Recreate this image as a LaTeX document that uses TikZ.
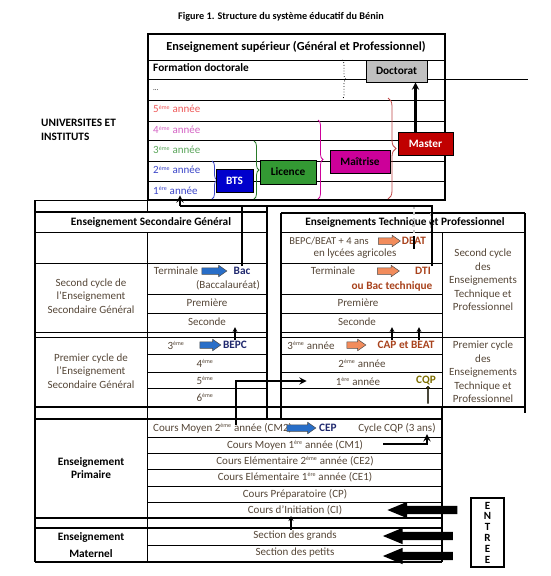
\documentclass[tikz,border=0pt]{standalone}
\usepackage{fontspec}
\setmainfont{Carlito}
\usetikzlibrary{shapes, arrows, positioning, decorations.pathreplacing}

\definecolor{bleu}{RGB}{0,0,204}
\definecolor{vert}{RGB}{51,153,51}
\definecolor{mauve}{RGB}{204,0,153}
\definecolor{rouge}{RGB}{192,0,0}
\definecolor{gris}{RGB}{192,192,192}
\definecolor{an5}{RGB}{238,90,90}
\definecolor{an4}{RGB}{212,100,196}
\definecolor{an3}{RGB}{90,165,90}
\definecolor{an12}{RGB}{60,70,200}
\definecolor{brun}{RGB}{85,70,55}
\definecolor{brique}{RGB}{168,66,28}
\definecolor{marine}{RGB}{31,40,110}
\definecolor{kaki}{RGB}{125,110,0}
\definecolor{saumon}{RGB}{242,140,92}
\definecolor{bleuf}{RGB}{40,110,200}
\newcommand{\expo}[1]{\textsuperscript{\fontsize{6}{6}\selectfont #1}}

\begin{document}
\begin{tikzpicture}[x=1pt,y=-1pt]
        \tikzstyle{every node}=[align=center, inner sep=1pt, font=\fontsize{11}{13.5}\selectfont]
        \tikzstyle{gras}=[font=\fontsize{11.3}{13.5}\selectfont\bfseries]
        \tikzstyle{lbl}=[text=brun]
        \tikzstyle{tline}=[line width=0.8pt]
        \tikzstyle{bline}=[line width=1.8pt]
        \tikzstyle{conn}=[line width=2.2pt]
        \tikzstyle{fine}=[line width=1.2pt]
        \tikzstyle{diplome}=[draw, line width=0.8pt, font=\fontsize{11.3}{13.5}\selectfont\bfseries, inner sep=0pt]
        \tikzstyle{accol}=[decorate, decoration={brace, amplitude=5pt}, line width=0.8pt]
        \tikzstyle{barrow}=[single arrow, draw=black!70, line width=0.5pt, inner xsep=0pt, inner ysep=3pt, minimum height=25pt, single arrow head extend=2.5pt, single arrow tip angle=70]
        \tikzstyle{entarrow}=[single arrow, fill=black, inner xsep=0pt, inner ysep=4pt, minimum height=70pt, single arrow head extend=4pt, single arrow tip angle=45, shape border rotate=180]
        \useasboundingbox (0,0) rectangle (551,576);

        % titre
        \node at (281,17) (titre) {\fontsize{10.2}{12}\selectfont\bfseries Figure 1. Structure du système éducatif du Bénin};

        % enseignement superieur
        \foreach \y in {60,79,100,121,140,161,181} \draw[tline] (148,\y) -- (445,\y);
        \draw[tline] (445,79) -- (528,79);
        \draw[bline] (148,34) rectangle (445,200);
        \node[font=\fontsize{12.3}{14}\selectfont\bfseries] at (296,47) (hsup) {Enseignement supérieur (Général et Professionnel)};
        \node[gras, anchor=west] at (152,68) (fdoc) {Formation doctorale};
        \node[anchor=west, font=\fontsize{7}{8}\selectfont] at (152,90) (pts) {...};
        \node[anchor=west, text=an5] at (152,109) (an5) {5\expo{ème} année};
        \node[anchor=west, text=an4] at (152,130) (an4) {4\expo{ème} année};
        \node[anchor=west, text=an3] at (152,150) (an3) {3\expo{ème} année};
        \node[anchor=west, text=an12] at (152,170) (an2) {2\expo{ème} année};
        \node[anchor=west, text=an12] at (152,190) (an1) {1\expo{ère} année};
        \node[gras, anchor=west] at (40,123) (univ) {UNIVERSITES ET};
        \node[gras, anchor=west] at (40,137) (inst) {INSTITUTS};

        \draw[accol, an12] (212,161) -- (212,199);
        \draw[accol, vert!80!black] (254,141) -- (254,199);
        \draw[accol, mauve] (318,120) -- (318,199);
        \draw[accol, an5!80!black, decoration={brace, amplitude=8pt}] (388,98) -- (388,199);
        \draw[accol, dotted, decoration={brace, amplitude=4pt}] (342,60) -- (342,99);

        \node[diplome, fill=bleu, text=white, minimum width=37pt, minimum height=23pt] at (234.5,180.5) (bts) {BTS};
        \node[diplome, fill=vert, minimum width=56pt, minimum height=24pt] at (288,172) (lic) {Licence};
        \node[diplome, fill=mauve, minimum width=60pt, minimum height=23pt] at (360,161.5) (mait) {Maîtrise};
        \node[diplome, fill=rouge, text=white, minimum width=55pt, minimum height=23pt] at (425.5,143.5) (master) {Master};
        \node[diplome, fill=gris, minimum width=61pt, minimum height=22pt] at (396.5,71) (doct) {Doctorat};
        \draw[conn, >=stealth, ->] ([xshift=-10pt]master.north) -- ([xshift=-10pt]master.north |- doct.south);

        % cadres du bas
        \draw[tline] (35,200) -- (148,200);
        \draw[bline] (35,200) -- (35,562);
        \draw[tline] (147,200) -- (147,212);
        \draw[tline] (147,232) -- (147,562);
        \draw[bline] (35,212) -- (267,212);
        \draw[bline] (267,206) -- (267,419);
        \draw[bline] (281,213) -- (525,213);
        \draw[bline] (281,213) -- (281,419);
        \draw[bline] (525,213) -- (525,413);
        \draw[tline] (442,232) -- (442,407);
        \draw[bline] (442,407) -- (442,562);
        \foreach \y in {232,263,332,337} \draw[tline] (35,\y) -- (267,\y);
        \foreach \y in {294,313,354,372,388} \draw[tline] (147,\y) -- (267,\y);
        \foreach \y in {232,337} \draw[tline] (281,\y) -- (525,\y);
        \foreach \y in {263,294,313,332,354,372,388} \draw[tline] (281,\y) -- (442,\y);
        \draw[bline] (35,407) -- (525,407);
        \foreach \y in {419,518,528,562} \draw[bline] (35,\y) -- (442,\y);
        \foreach \y in {437,453,469,486,502,545} \draw[tline] (147,\y) -- (442,\y);

        % secondaire general
        \node[gras] at (151,222) (hsg) {Enseignement Secondaire Général};
        \node[lbl] at (91,296) (scsg) {Second cycle de\\l’Enseignement\\Secondaire Général};
        \node[lbl] at (91,371) (pcsg) {Premier cycle de\\l’Enseignement\\Secondaire Général};
        \node[lbl] at (176,271) (termg) {Terminale};
        \node[barrow, fill=bleuf] at (212,271) (fbac) {};
        \node[gras, text=marine] at (242,271) (bac) {Bac};
        \node[lbl] at (228,285) (bacl) {(Baccalauréat)};
        \node[lbl] at (207,303) (premg) {Première};
        \node[lbl] at (207,322) (secg) {Seconde};
        \node[lbl] at (176,345) (e3) {3\expo{ème}};
        \node[barrow, fill=bleuf, minimum height=21pt] at (208,345) (fbepc) {};
        \node[gras, text=marine] at (235,345) (bepc) {BEPC};
        \node[lbl] at (205,363) (e4) {4\expo{ème}};
        \node[lbl] at (205,380) (e5) {5\expo{ème}};
        \node[lbl] at (205,397) (e6) {6\expo{ème}};

        % technique et professionnel
        \node[gras] at (405,222) (htp) {Enseignements Technique et Professionnel};
        \node[lbl, font=\fontsize{10.5}{13}\selectfont] at (329,241) (bepcbeat) {BEPC/BEAT + 4 ans};
        \node[barrow, fill=saumon, minimum height=22pt] at (387,241) (fdeat) {};
        \node[gras, text=brique] at (414,241) (deat) {DEAT};
        \node[lbl] at (355,254) (lycee) {en lycées agricoles};
        \node[lbl] at (333,271) (termt) {Terminale};
        \node[barrow, fill=saumon, minimum height=22pt] at (386,271) (fdti) {};
        \node[gras, text=brique] at (423,271) (dti) {DTI};
        \node[gras, text=brique] at (392,286) (bact) {ou Bac technique};
        \node[lbl] at (358,303) (premt) {Première};
        \node[lbl] at (357,322) (sect) {Seconde};
        \node[lbl] at (311,345) (a3) {3\expo{ème} année};
        \node[barrow, fill=saumon, minimum height=19pt] at (354,345) (fcap) {};
        \node[gras, text=brique] at (406,345) (cap) {CAP et BEAT};
        \node[lbl] at (362,363) (a2) {2\expo{ème} année};
        \node[lbl] at (358,381) (a1) {1\expo{ère} année};
        \node[gras, text=kaki] at (426,380) (cqp) {CQP};
        \node[single arrow, draw, fill=kaki, line width=0.6pt, inner xsep=0pt, inner ysep=2.5pt, minimum height=17pt, single arrow head extend=2pt, shape border rotate=90] at (428,395) (fcqp) {};
        \node[lbl] at (483,280) (sctp) {Second cycle\\des\\Enseignements\\Technique et\\Professionnel};
        \node[lbl] at (483,372) (pctp) {Premier cycle\\des\\Enseignements\\Technique et\\Professionnel};

        % primaire et maternel
        \node[gras] at (91,468) (prim) {Enseignement\\Primaire};
        \node[gras] at (91,545) (mat) {Enseignement\\[3pt]Maternel};
        \node[lbl, anchor=west] at (152,428) (cm2) {Cours Moyen 2\expo{ème} année (CM2)};
        \node[barrow, fill=bleuf, minimum height=29pt] at (299,428) (fcep) {};
        \node[gras, text=marine] at (328,428) (cep) {CEP};
        \node[lbl] at (397,428) (cycq) {Cycle CQP (3 ans)};
        \node[lbl] at (295,445) (cm1) {Cours Moyen 1\expo{ère} année (CM1)};
        \node[lbl] at (295,461) (ce2) {Cours Elémentaire 2\expo{ème} année (CE2)};
        \node[lbl] at (295,477) (ce1) {Cours Elémentaire 1\expo{ère} année (CE1)};
        \node[lbl] at (295,494) (cp) {Cours Préparatoire (CP)};
        \node[lbl] at (295,510) (ci) {Cours d’Initiation (CI)};
        \node[lbl] at (295,536) (grands) {Section des grands};
        \node[lbl] at (295,553) (petits) {Section des petits};

        % entree
        \node[draw, line width=2.2pt, minimum width=33pt, minimum height=69pt, font=\fontsize{11}{10.8}\selectfont\bfseries] at (487.5,532.5) (entree) {E\\N\\T\\R\\E\\E};
        \node[entarrow] at (427.5,510) (eci) {};
        \node[entarrow] at (423,536) (egr) {};
        \node[entarrow] at (423,556) (epe) {};

        % liaisons
        \coordinate (jn) at (180,206);
        \coordinate (cm2up) at (236,425);
        \coordinate (cqpst) at (383,444);
        \draw[gray!45, dashed, conn] (deat.north |- jn) -- ([yshift=-13pt]deat.north);
        \draw[conn] (deat.north) -- ([yshift=-13pt]deat.north);
        \draw[gray!45, dashed, conn] (431,213) -- (431,232);
        \draw[conn] (dti.north east) |- (jn);
        \draw[conn, >=stealth, ->] (jn) -- (jn |- an1.south);
        \draw[conn] (bac.north) -- (bac.north |- jn);
        \draw[fine, >=stealth, ->] (bepc.north) -- (bepc.north |- secg.south);
        \draw[fine, >=stealth, ->] ([xshift=-14pt]cap.north) -- ([xshift=-14pt]cap.north |- sect.south);
        \draw[fine, >=stealth, ->] ([xshift=13pt]cap.north) -- ([xshift=13pt]cap.north |- sect.south);
        \draw[conn, >=stealth, ->] (cm2up) |- ([xshift=-28pt]a1.west);
        \draw[conn, >=stealth, ->] (cqpst) -| ([xshift=30pt]cycq.south);
        \draw[fine, >=stealth, ->] ([xshift=-4pt]grands.north) -- ([xshift=-4pt]grands.north |- ci.south);
\end{tikzpicture}
\end{document}
